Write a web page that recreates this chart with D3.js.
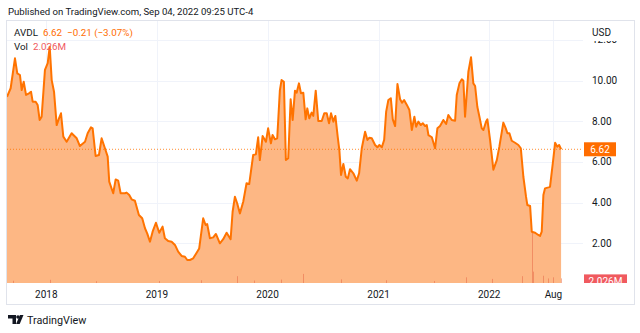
<!DOCTYPE html>
<html>
<head>
<meta charset="utf-8">
<script src="https://cdn.jsdelivr.net/npm/d3@7"></script>
<style>
  body { margin: 0; background: #fff; }
  text { font-family: Roboto, "Liberation Sans", sans-serif; }
</style>
</head>
<body>
<div id="chart"></div>
<script>
// price series (time in decimal years, close in USD)
const priceT = [2017.645,2017.678,2017.717,2017.738,2017.762,2017.778,2017.796,2017.817,2017.844,2017.862,
  2017.877,2017.904,2017.922,2017.940,2017.958,2017.988,2018.013,2018.031,2018.049,2018.070,
  2018.094,2018.115,2018.133,2018.154,2018.184,2018.229,2018.275,2018.304,2018.350,2018.374,
  2018.404,2018.419,2018.446,2018.476,2018.500,2018.530,2018.555,
  2018.569,2018.605,2018.627,2018.650,2018.672,2018.711,2018.726,2018.750,2018.771,2018.801,
  2018.837,2018.867,2018.892,2018.912,2018.937,2018.961,2018.991,2019.021,2019.051,2019.072,
  2019.102,2019.133,2019.163,2019.192,2019.223,2019.253,2019.274,2019.298,2019.328,2019.359,2019.382,
  2019.418,2019.440,2019.454,2019.479,2019.509,2019.533,2019.569,2019.599,2019.630,2019.666,
  2019.684,2019.705,2019.725,2019.750,2019.780,2019.810,2019.834,2019.870,2019.894,2019.915,
  2019.930,2019.955,2019.985,2020.005,2020.030,2020.045,2020.066,2020.087,2020.111,2020.126,
  2020.147,2020.165,2020.186,2020.208,2020.226,2020.247,2020.262,2020.283,2020.301,2020.322,
  2020.343,2020.358,2020.376,2020.397,2020.412,2020.434,2020.457,2020.488,2020.511,2020.533,
  2020.554,2020.572,2020.593,2020.611,2020.632,2020.647,2020.662,2020.683,2020.705,2020.723,
  2020.743,2020.773,2020.804,2020.825,2020.849,2020.879,2020.900,2020.918,2020.939,2020.969,
  2020.990,2021.008,2021.030,2021.051,2021.069,2021.089,2021.111,2021.129,2021.150,2021.171,
  2021.195,2021.213,2021.231,2021.256,
  2021.279,2021.301,2021.324,2021.340,2021.360,2021.382,2021.400,2021.421,2021.436,2021.451,
  2021.482,2021.511,2021.532,2021.556,2021.586,2021.611,2021.631,2021.662,2021.692,2021.707,
  2021.731,2021.753,2021.767,2021.782,2021.812,2021.836,2021.857,2021.873,2021.893,2021.912,
  2021.933,2021.948,2021.972,2021.984,2022.008,
  2022.038,2022.069,2022.092,2022.128,2022.150,2022.165,2022.183,2022.204,2022.234,2022.264,
  2022.286,2022.309,2022.333,2022.345,2022.370,2022.385,2022.415,2022.444,2022.460,2022.475,
  2022.490,2022.505,2022.535,2022.550,2022.575,2022.596,2022.616,2022.632,2022.650];
const priceV = [9.20,9.62,11.09,10.35,10.27,9.53,9.94,9.29,9.37,9.45,
  8.96,8.96,8.80,8.06,8.22,10.52,10.85,11.66,10.02,9.45,
  7.81,8.14,8.39,7.24,6.99,7.41,7.16,6.78,6.99,7.41,
  7.70,7.65,6.29,6.34,7.16,6.67,6.26,
  5.03,4.46,5.14,5.08,4.46,4.46,4.49,4.37,4.16,4.09,
  3.39,3.23,2.74,2.49,2.08,2.57,3.01,2.52,2.82,2.25,
  2.11,2.08,1.92,1.59,1.38,1.34,1.18,1.18,1.26,1.54,1.75,
  3.23,2.90,2.95,2.25,2.29,2.46,2.00,2.20,2.52,2.20,
  3.55,4.29,3.97,3.47,4.04,4.95,4.91,6.34,6.37,7.21,
  6.09,7.27,6.99,7.65,6.91,7.32,7.11,7.16,9.53,10.02,
  9.94,6.09,6.18,9.08,8.06,9.50,9.40,9.86,9.37,9.40,
  8.09,8.63,8.14,8.42,8.26,9.50,8.01,8.01,8.39,8.39,
  7.90,8.39,7.98,8.26,7.24,6.58,5.36,5.90,5.27,5.19,
  5.64,5.44,5.08,5.44,6.67,7.48,7.08,7.19,7.16,6.83,
  6.72,6.83,6.72,7.08,8.47,9.04,9.13,8.09,7.76,9.83,
  9.08,8.91,9.04,8.80,
  8.55,7.57,8.22,7.73,7.98,7.81,7.90,7.76,7.81,7.32,
  7.21,6.67,7.65,7.76,8.06,7.86,8.30,8.06,8.02,9.29,
  9.86,10.06,9.99,8.22,10.43,11.14,9.86,9.73,8.71,8.22,
  7.65,7.57,7.98,8.09,7.08,
  5.62,6.09,6.75,7.93,7.65,7.41,7.41,7.04,6.94,6.83,
  6.67,5.27,4.29,3.88,3.83,2.57,2.52,2.41,2.36,2.57,
  4.37,4.70,4.75,4.78,5.93,6.94,6.75,6.83,6.62];

// a few visible volume bars (millions)
const volT = [2017.70,2018.03,2018.45,2019.02,2019.40,2019.72,2019.88,2020.12,2020.32,2020.66,
  2021.07,2021.50,2021.79,2022.03,2022.30,2022.385,2022.40,2022.49,2022.53,2022.58,2022.650];
const volM = [1.0,1.4,0.8,0.9,1.2,3.0,1.1,1.5,4.0,1.6,1.2,0.9,2.5,1.8,3.0,22.0,5.0,3.2,2.0,2.5,2.026];

const yTicks = [2, 4, 6, 8, 10, 12];
const xTickDates = ["2018-01-01","2019-01-01","2020-01-01","2021-01-01","2022-01-01","2022-08-01"];
const xTickLabels = ["2018","2019","2020","2021","2022","Aug"];

const lastPrice = 6.62;
const lastVol = 2.026;

if (priceT.length !== priceV.length) throw new Error("length mismatch " + priceT.length + " " + priceV.length);

function toDate(t) {
  const y = Math.floor(t);
  const a = Date.UTC(y, 0, 1), b = Date.UTC(y + 1, 0, 1);
  return new Date(a + (t - y) * (b - a));
}

const W = 640, H = 333;
const plot = {left: 7, right: 583, top: 21, bottom: 283};
const frameRight = 635, frameBottom = 305;

const orange = "#ff7300";
const fillCol = "#fdb784";
const textCol = "#131722";
const gridCol = "#f0f3fa";

const data = priceT.map((t, i) => ({date: toDate(t), v: priceV[i]}));
const vols = volT.map((t, i) => ({date: toDate(t), v: volM[i]}));

const x = d3.scaleUtc()
  .domain([toDate(2017.645), toDate(2022.848)])
  .range([plot.left, plot.right]);
const y = d3.scaleLinear().domain([0, 10]).range([284, 80.5]);
const yVol = d3.scaleLinear().domain([0, 22]).range([plot.bottom, 233]);

const svg = d3.select("#chart").append("svg")
  .attr("width", W).attr("height", H);

svg.append("rect").attr("width", W).attr("height", H).attr("fill", "#fff");

const defs = svg.append("defs");
defs.append("clipPath").attr("id", "plotclip")
  .append("rect")
  .attr("x", plot.left).attr("y", plot.top)
  .attr("width", plot.right - plot.left).attr("height", plot.bottom - plot.top);
// axis scale area starts below the USD title, so the top label is cut
defs.append("clipPath").attr("id", "axisclip")
  .append("rect").attr("x", plot.right).attr("y", 41)
  .attr("width", frameRight - plot.right).attr("height", plot.bottom - 41);

// grid
const grid = svg.append("g");
grid.selectAll(".hg").data(yTicks).enter().append("line")
  .attr("x1", plot.left).attr("x2", plot.right)
  .attr("y1", d => Math.round(y(d)) + 0.5).attr("y2", d => Math.round(y(d)) + 0.5)
  .attr("stroke", gridCol);
grid.selectAll(".vg").data(xTickDates).enter().append("line")
  .attr("x1", d => Math.round(x(new Date(d))) + 0.5).attr("x2", d => Math.round(x(new Date(d))) + 0.5)
  .attr("y1", plot.top).attr("y2", plot.bottom)
  .attr("stroke", gridCol);

const g = svg.append("g").attr("clip-path", "url(#plotclip)");

// area + line
const area = d3.area()
  .x(d => x(d.date))
  .y0(plot.bottom)
  .y1(d => y(d.v));
const line = d3.line()
  .x(d => x(d.date))
  .y(d => y(d.v));

g.append("path").datum(data).attr("d", area).attr("fill", fillCol);

// volume bars
g.selectAll(".vol").data(vols).enter().append("rect")
  .attr("x", d => Math.round(x(d.date)))
  .attr("width", 1)
  .attr("y", d => yVol(d.v))
  .attr("height", d => plot.bottom - yVol(d.v))
  .attr("fill", "rgba(226,92,60,0.45)");

g.append("path").datum(data).attr("d", line)
  .attr("fill", "none").attr("stroke", orange)
  .attr("stroke-width", 2).attr("stroke-linejoin", "round");

// last price dotted line
g.append("line")
  .attr("x1", plot.left).attr("x2", plot.right)
  .attr("y1", y(lastPrice)).attr("y2", y(lastPrice))
  .attr("stroke", orange).attr("stroke-width", 1)
  .attr("stroke-dasharray", "1,2").attr("opacity", 0.8);

// right axis labels
const axisX = 592;
svg.append("g").attr("clip-path", "url(#axisclip)")
  .selectAll(".yl").data(yTicks).enter().append("text")
  .attr("x", axisX).attr("y", d => y(d))
  .attr("dy", "0.35em")
  .attr("font-size", 10).attr("fill", textCol)
  .text(d => d3.format(".2f")(d));

svg.append("text").attr("x", axisX).attr("y", 32).attr("dy", "0.35em")
  .attr("font-size", 10).attr("fill", textCol).text("USD");

// price label
svg.append("rect").attr("x", 584).attr("y", y(lastPrice) - 7)
  .attr("width", 32).attr("height", 14).attr("fill", "#ff6d00");
svg.append("text").attr("x", 600).attr("y", y(lastPrice)).attr("dy", "0.35em")
  .attr("text-anchor", "middle").attr("font-size", 10).attr("fill", "#fff")
  .text(d3.format(".2f")(lastPrice));

// volume label (cut at the pane bottom)
defs.append("clipPath").attr("id", "volclip")
  .append("rect").attr("x", 583).attr("y", 260).attr("width", 60).attr("height", plot.bottom - 260);
const vl = svg.append("g").attr("clip-path", "url(#volclip)");
vl.append("rect").attr("x", 584).attr("y", yVol(lastVol) - 4)
  .attr("width", 43).attr("height", 14).attr("fill", "#f05a5f");
vl.append("text").attr("x", 605.5).attr("y", yVol(lastVol) + 3).attr("dy", "0.35em")
  .attr("text-anchor", "middle").attr("font-size", 10).attr("fill", "#fff")
  .text(lastVol.toFixed(3) + "M");

// x axis labels
svg.selectAll(".xl").data(xTickDates).enter().append("text")
  .attr("x", d => x(new Date(d))).attr("y", 294).attr("dy", "0.35em")
  .attr("text-anchor", "middle").attr("font-size", 10).attr("fill", textCol)
  .text((d, i) => xTickLabels[i]);

// frame
svg.append("rect")
  .attr("x", plot.left - 0.5).attr("y", plot.top - 0.5)
  .attr("width", frameRight - plot.left).attr("height", frameBottom - plot.top)
  .attr("fill", "none").attr("stroke", "#e0e3eb");

// header texts
svg.append("text").attr("x", 8).attr("y", 12).attr("dy", "0.35em")
  .attr("font-size", 9.6).attr("fill", textCol)
  .text("Published on TradingView.com, Sep 04, 2022 09:25 UTC-4");

const leg1 = svg.append("text").attr("x", 14).attr("y", 33).attr("dy", "0.35em").attr("font-size", 9.8);
leg1.append("tspan").attr("fill", textCol).text("AVDL");
leg1.append("tspan").attr("fill", "#ff6d00").attr("dx", 5).text("6.62");
leg1.append("tspan").attr("fill", "#ff6d00").attr("dx", 5).text("\u22120.21 (\u22123.07%)");

const leg2 = svg.append("text").attr("x", 14).attr("y", 47).attr("dy", "0.35em").attr("font-size", 9.8);
leg2.append("tspan").attr("fill", textCol).text("Vol");
leg2.append("tspan").attr("fill", "#f05a5f").attr("dx", 5).text("2.026M");

// TradingView logo + name
const logo = svg.append("g").attr("fill", textCol);
logo.append("path").attr("d", "M8,315 h8 v9 h-3.5 v-5.5 h-4.5 z");
logo.append("circle").attr("cx", 18).attr("cy", 317).attr("r", 1.8);
logo.append("path").attr("d", "M20,315 h3.5 l-3.8,9 h-3.6 z");
svg.append("text").attr("x", 27).attr("y", 320).attr("dy", "0.35em")
  .attr("font-size", 10.8).attr("fill", textCol).text("TradingView");
</script>
</body>
</html>
